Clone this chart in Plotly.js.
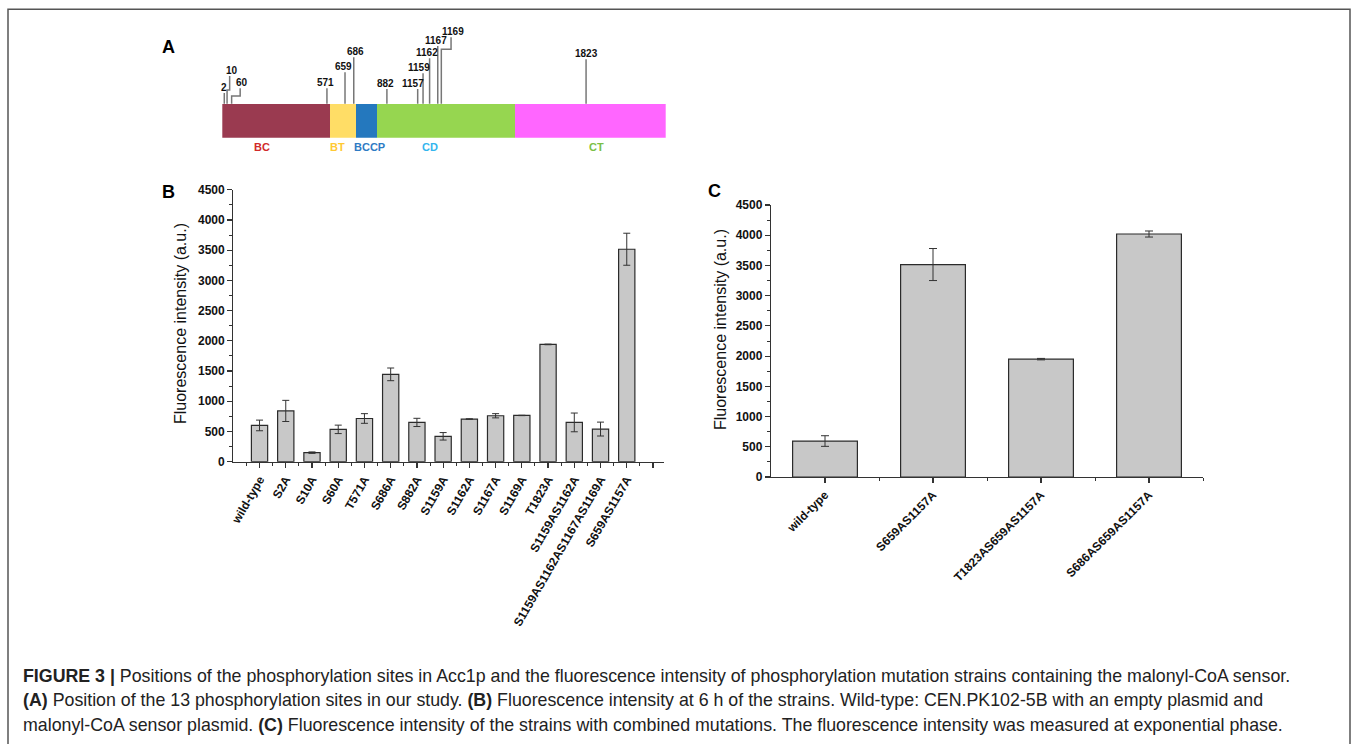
<!DOCTYPE html>
<html>
<head>
<meta charset="utf-8">
<script src="https://cdn.plot.ly/plotly-3.0.1.min.js"></script>
<style>
  html, body { margin: 0; padding: 0; background: #fff; }
  #chart { width: 1357px; height: 744px; }
</style>
</head>
<body>
<div id="chart"></div>
<script>
// ---------------- DATA ----------------
// Panel A: Acc1p domains (residue scale as drawn) and phosphorylation sites
const domainNames = ['BC', 'BT', 'BCCP', 'CD', 'CT'];
const domainStart = [0, 542, 672, 781, 1474];
const domainEnd = [542, 672, 781, 1474, 2233];
const siteResidues = [2, 10, 60, 571, 659, 686, 882, 1157, 1159, 1162, 1167, 1169, 1823];
const sitePosDrawn = [10, 24, 47, 527, 618, 662, 829, 984, 1011, 1044, 1085, 1103, 1832];

// Panel B: single mutations
const catsB = ['wild-type', 'S2A', 'S10A', 'S60A', 'T571A', 'S686A', 'S882A', 'S1159A',
  'S1162A', 'S1167A', 'S1169A', 'T1823A', 'S1159AS1162A', 'S1159AS1162AS1167AS1169A', 'S659AS1157A'];
const valsB = [600, 840, 150, 535, 715, 1445, 650, 420, 705, 760, 765, 1940, 650, 540, 3515];
const errB = [88, 175, 12, 70, 80, 105, 68, 62, 5, 35, 3, 5, 155, 115, 265];

// Panel C: combined mutations
const catsC = ['wild-type', 'S659AS1157A', 'T1823AS659AS1157A', 'S686AS659AS1157A'];
const valsC = [595, 3515, 1950, 4020];
const errC = [88, 265, 12, 50];

// ---------------- STYLE / LAYOUT CONSTANTS ----------------
const W = 1357, H = 744;
const px = v => v / W;
const py = v => 1 - v / H;
const FONT = '"Liberation Sans", Arial, Helvetica, sans-serif';
const domainColors = ['#9A3A50', '#FFDD66', '#2478BE', '#96D650', '#FF66FF'];
const domainLabelColors = ['#D12A2A', '#FFC933', '#2E7BC4', '#33B5EE', '#7BBF45'];
const domainLabelAt = [200, 578, 742, 1044, 1882];   // label anchor on the schematic scale
// drawing tiers of the site leader lines (px above bar bottom)
const siteTop = [44.7, 61.7, 49.4, 49.4, 65.4, 80.4, 48.7, 48.7, 64.4, 79.4, 91.7, 100.4, 78.4];
const siteKinkY = [null, 47.7, 41.7, null, null, null, null, null, null, null, null, 88.4, null];
const siteKinkDx = [0, 13, 43, 0, 0, 0, 0, 0, 0, 0, 0, 49, 0];
const siteLabelShift = [-0.6, 2, 1.4, -1.3, -1.7, 1.3, -1.3, -5, -3.7, -3, -2, 1.7, 0];
const barTop = 34;

// ---------------- TRACES ----------------
const traces = [];

// Panel A domain bar
traces.push({
  type: 'bar', orientation: 'h', xaxis: 'x3', yaxis: 'y3',
  y: domainNames.map(() => barTop / 2),
  base: domainStart,
  x: domainStart.map((s, i) => domainEnd[i] - s),
  width: barTop,
  marker: { color: domainColors, line: { width: 0 } },
  hoverinfo: 'skip'
});

// Panel A leader lines
const lx = [], ly = [];
siteResidues.forEach((r, i) => {
  const p = sitePosDrawn[i];
  lx.push(p); ly.push(barTop);
  if (siteKinkY[i] !== null) {
    lx.push(p); ly.push(siteKinkY[i]);
    lx.push(p + siteKinkDx[i]); ly.push(siteKinkY[i]);
    lx.push(p + siteKinkDx[i]); ly.push(siteTop[i]);
  } else {
    lx.push(p); ly.push(siteTop[i]);
  }
  lx.push(null); ly.push(null);
});
traces.push({
  type: 'scatter', mode: 'lines', xaxis: 'x3', yaxis: 'y3',
  x: lx, y: ly, line: { color: '#777', width: 1.5 }, hoverinfo: 'skip', connectgaps: false
});

// Panel B bars
traces.push({
  type: 'bar', xaxis: 'x', yaxis: 'y',
  x: catsB.map((c, i) => i), y: valsB, width: 0.62,
  marker: { color: '#C8C8C8', line: { color: '#2b2b2b', width: 1.2 } },
  error_y: { type: 'data', array: errB, visible: true, color: '#333', thickness: 1, width: 3.5 },
  hoverinfo: 'skip'
});

// Panel C bars
traces.push({
  type: 'bar', xaxis: 'x2', yaxis: 'y2',
  x: catsC.map((c, i) => i), y: valsC, width: 0.6,
  marker: { color: '#C8C8C8', line: { color: '#2b2b2b', width: 1.2 } },
  error_y: { type: 'data', array: errC, visible: true, color: '#333', thickness: 1, width: 4 },
  hoverinfo: 'skip'
});

// ---------------- AXES ----------------
const axCommon = {
  showgrid: false, zeroline: false, showline: true, linecolor: '#333', linewidth: 1.2,
  ticks: 'outside', ticklen: 5, tickwidth: 1.2, tickcolor: '#333',
  tickfont: { family: FONT, size: 12, color: '#111', weight: 'bold' }
};

const tvB = catsB.map((c, i) => i).concat([catsB.length]);
const ttB = catsB.concat(['']);
const minorB = [];
for (let k = -0.5; k <= catsB.length + 0.5; k += 1) minorB.push(k);
const minorC = [];
for (let k = 0.5; k < catsC.length; k += 1) minorC.push(k);

const layout = {
  width: W, height: H,
  margin: { l: 0, r: 0, t: 0, b: 0 },
  paper_bgcolor: '#fff', plot_bgcolor: 'rgba(0,0,0,0)',
  showlegend: false, hovermode: false, bargap: 0,
  font: { family: FONT, color: '#111' },
  xaxis: Object.assign({}, axCommon, {
    domain: [px(233.3), px(664)], anchor: 'y', range: [-1, 15.42],
    tickmode: 'array', tickvals: tvB, ticktext: ttB, tickangle: -60,
    minor: { ticks: 'outside', ticklen: 3, tickwidth: 1, tickcolor: '#333', tickmode: 'array', tickvals: minorB }
  }),
  yaxis: Object.assign({}, axCommon, {
    domain: [py(461.7), py(189.7)], anchor: 'x', range: [0, 4500],
    tickmode: 'linear', tick0: 0, dtick: 500,
    minor: { ticks: 'outside', ticklen: 3, tickwidth: 1, tickcolor: '#333', dtick: 250, tick0: 0 }
  }),
  xaxis2: Object.assign({}, axCommon, {
    domain: [px(771), px(1203)], anchor: 'y2', range: [-0.5, 3.5],
    tickmode: 'array', tickvals: catsC.map((c, i) => i), ticktext: catsC, tickangle: -45,
    minor: { ticks: 'outside', ticklen: 3, tickwidth: 1, tickcolor: '#333', tickmode: 'array', tickvals: minorC }
  }),
  yaxis2: Object.assign({}, axCommon, {
    domain: [py(477), py(205)], anchor: 'x2', range: [0, 4500],
    tickmode: 'linear', tick0: 0, dtick: 500,
    minor: { ticks: 'outside', ticklen: 3, tickwidth: 1, tickcolor: '#333', dtick: 250, tick0: 0 }
  }),
  xaxis3: {
    domain: [px(222.3), px(665.7)], anchor: 'y3', range: [0, 2233], visible: false, fixedrange: true
  },
  yaxis3: {
    domain: [py(137.7), py(27)], anchor: 'x3', range: [0, 110.7], visible: false, fixedrange: true
  },
  shapes: [
    { type: 'rect', xref: 'paper', yref: 'paper', x0: px(8), x1: px(1350), y0: -0.05, y1: py(9.3),
      line: { color: '#555', width: 1.5 }, fillcolor: 'rgba(0,0,0,0)' }
  ],
  annotations: []
};

// Site labels
siteResidues.forEach((r, i) => {
  layout.annotations.push({
    xref: 'x3', yref: 'y3', x: sitePosDrawn[i] + siteKinkDx[i], y: siteTop[i] + 5.5,
    text: '<b>' + r + '</b>', showarrow: false, xanchor: 'center', yanchor: 'middle',
    xshift: siteLabelShift[i], font: { family: FONT, size: 10, color: '#111' }
  });
});
// Domain labels
domainNames.forEach((d, i) => {
  layout.annotations.push({
    xref: 'x3', yref: 'paper', x: domainLabelAt[i], y: py(147.3),
    text: '<b>' + d + '</b>', showarrow: false, xanchor: 'center', yanchor: 'middle',
    font: { family: FONT, size: 11, color: domainLabelColors[i] }
  });
});
// Panel letters
[['A', 168, 47], ['B', 168, 192], ['C', 714, 191]].forEach(([t, x, y]) => {
  layout.annotations.push({
    xref: 'paper', yref: 'paper', x: px(x), y: py(y), text: '<b>' + t + '</b>',
    showarrow: false, xanchor: 'center', yanchor: 'middle',
    font: { family: FONT, size: 18, color: '#000' }
  });
});
// Axis titles
[[180, 324], [720, 330]].forEach(([x, y]) => {
  layout.annotations.push({
    xref: 'paper', yref: 'paper', x: px(x), y: py(y), text: 'Fluorescence intensity (a.u.)',
    textangle: -90, showarrow: false, xanchor: 'center', yanchor: 'middle',
    font: { family: FONT, size: 16, color: '#111' }
  });
});
// Caption
const captionLines = [
  '<b>FIGURE 3 |</b> Positions of the phosphorylation sites in Acc1p and the fluorescence intensity of phosphorylation mutation strains containing the malonyl-CoA sensor.',
  '<b>(A)</b> Position of the 13 phosphorylation sites in our study. <b>(B)</b> Fluorescence intensity at 6 h of the strains. Wild-type: CEN.PK102-5B with an empty plasmid and',
  'malonyl-CoA sensor plasmid. <b>(C)</b> Fluorescence intensity of the strains with combined mutations. The fluorescence intensity was measured at exponential phase.'
];
[676, 700, 725].forEach((y, i) => {
  layout.annotations.push({
    xref: 'paper', yref: 'paper', x: px(21), y: py(y), text: captionLines[i],
    showarrow: false, xanchor: 'left', yanchor: 'middle', align: 'left',
    font: { family: FONT, size: 17.8, color: '#222' }
  });
});

Plotly.newPlot('chart', traces, layout, { displayModeBar: false, staticPlot: true });
</script>
</body>
</html>
